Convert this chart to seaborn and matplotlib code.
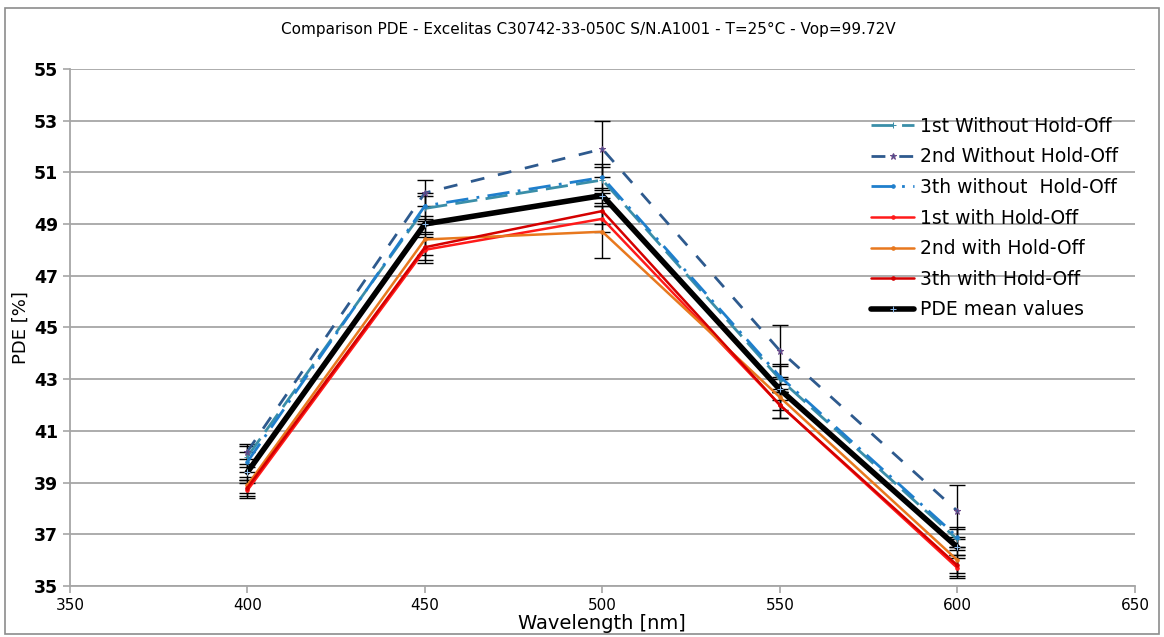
import matplotlib
matplotlib.use('Agg')
import matplotlib.pyplot as plt
import seaborn as sns
import pandas as pd
from matplotlib.patches import Rectangle

# wavelengths [nm]
wavelength = [400, 450, 500, 550, 600]

# PDE values [%]
pde_1st_without = [40.0, 49.6, 50.7, 43.0, 36.8]
pde_2nd_without = [40.2, 50.2, 51.9, 44.1, 37.9]
pde_3th_without = [39.8, 49.7, 50.8, 43.1, 36.9]
pde_1st_with = [38.7, 48.0, 49.2, 42.0, 35.7]
pde_2nd_with = [38.9, 48.4, 48.7, 42.3, 36.0]
pde_3th_with = [38.8, 48.1, 49.5, 42.0, 35.8]
pde_mean = [39.4, 49.0, 50.1, 42.6, 36.5]

# error bar half widths
err_1st_without = [0.4, 0.5, 0.5, 0.5, 0.4]
err_2nd_without = [0.3, 0.5, 1.1, 1.0, 1.0]
err_3th_without = [0.4, 0.5, 0.5, 0.5, 0.4]
err_1st_with = [0.3, 0.5, 0.5, 0.5, 0.4]
err_2nd_with = [0.3, 0.6, 1.0, 0.5, 0.5]
err_3th_with = [0.3, 0.5, 0.5, 0.5, 0.4]
err_mean = [0.3, 0.3, 0.3, 0.4, 0.3]

series = [
    ('1st Without Hold-Off', pde_1st_without, err_1st_without, '#3a8ea8', (0, (8, 3)), 2.0, '+'),
    ('2nd Without Hold-Off', pde_2nd_without, err_2nd_without, '#2e5a8e', (0, (5, 5)), 2.0, '*'),
    ('3th without  Hold-Off', pde_3th_without, err_3th_without, '#1f7fcc', (0, (8, 3, 1, 3)), 2.0, '.'),
    ('1st with Hold-Off', pde_1st_with, err_1st_with, '#ff1a1a', '-', 1.8, '.'),
    ('2nd with Hold-Off', pde_2nd_with, err_2nd_with, '#e8781e', '-', 1.8, '.'),
    ('3th with Hold-Off', pde_3th_with, err_3th_with, '#d40000', '-', 1.8, '.'),
    ('PDE mean values', pde_mean, err_mean, '#000000', '-', 4.0, '+'),
]

sns.set_style('white')
plt.rcParams['font.family'] = ['DejaVu Sans']

fig = plt.figure(figsize=(11.64, 6.37), dpi=100)
ax = fig.add_axes([0.060, 0.080, 0.915, 0.812])

for name, vals, errs, color, ls, lw, mk in series:
    ax.errorbar(wavelength, vals, yerr=errs, fmt='none', ecolor='black',
                elinewidth=1.0, capsize=6, capthick=1.0, zorder=2)
    df = pd.DataFrame({'wavelength': wavelength, 'pde': vals})
    if mk == '*':
        edge = '#6a4a8a'
    elif name.startswith('PDE'):
        edge = '#8ab8e8'
    else:
        edge = color
    sns.lineplot(data=df, x='wavelength', y='pde', ax=ax, color=color,
                 linestyle=ls, linewidth=lw, marker=mk, markersize=5,
                 markeredgecolor=edge, label=name,
                 zorder=4 if name.startswith('PDE') else 3)

ax.set_xlim(350, 650)
ax.set_ylim(35, 55)
ax.set_xticks(range(350, 651, 50))
ax.set_yticks(range(35, 56, 2))
ax.yaxis.grid(True, color='#a6a6a6', linewidth=1.3)
ax.xaxis.grid(False)
for s in ['top', 'right']:
    ax.spines[s].set_visible(False)
for s in ['left', 'bottom']:
    ax.spines[s].set_color('#a6a6a6')
    ax.spines[s].set_linewidth(1.3)
ax.tick_params(axis='both', direction='out', length=5, color='#a6a6a6', width=1.2,
               labelcolor='black')
ax.tick_params(axis='y', left=True, labelsize=12.5)
ax.tick_params(axis='x', bottom=True, labelsize=11)
for t in ax.get_yticklabels():
    t.set_fontweight('bold')

ax.set_xlabel('Wavelength [nm]', fontsize=14, labelpad=1, color='black')
ax.set_ylabel('PDE [%]', fontsize=13, color='black')
ax.yaxis.set_label_coords(-0.038, 0.5)
fig.suptitle('Comparison PDE - Excelitas C30742-33-050C S/N.A1001 - T=25°C - Vop=99.72V',
             x=0.505, y=0.965, fontsize=11, color='black')

leg = ax.legend(loc='upper right', bbox_to_anchor=(1.0, 0.94), frameon=False,
                fontsize=13.5, handlelength=2.3, handletextpad=0.3, labelspacing=0.62)
for t in leg.get_texts():
    t.set_color('black')

fig.patches.append(Rectangle((0.004, 0.004), 0.992, 0.984, transform=fig.transFigure,
                             fill=False, edgecolor='#8c8c8c', linewidth=1.2))

fig.savefig('out.png', dpi=100)
